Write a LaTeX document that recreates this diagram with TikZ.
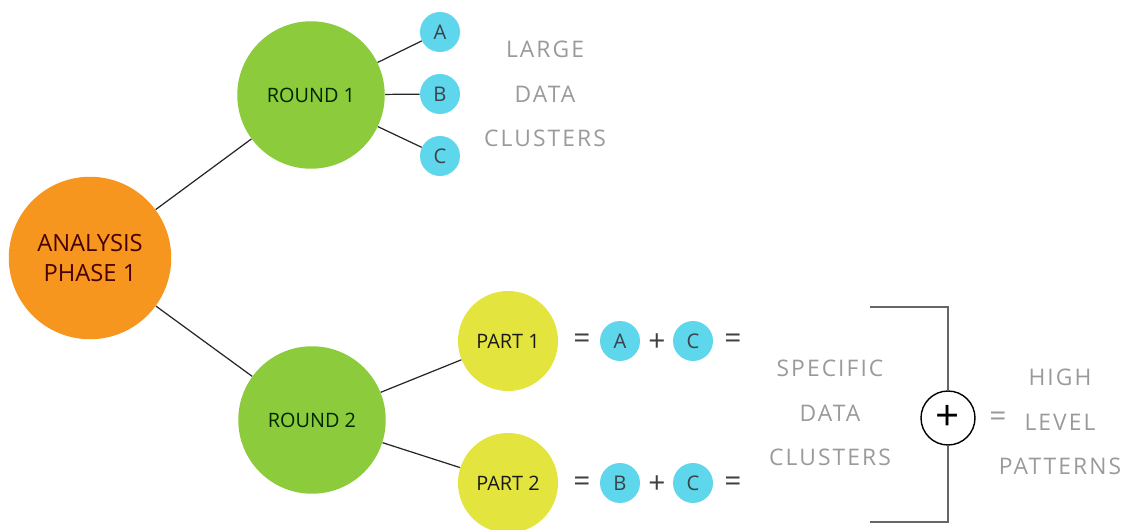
\documentclass[tikz,border=0pt]{standalone}
\usepackage{fontspec}
\setmainfont{Open Sans}
\newfontfamily\spaced[LetterSpace=9]{Open Sans}
\usepackage{xcolor}
\definecolor{phaseorange}{HTML}{F7961F}
\definecolor{roundgreen}{HTML}{8CCB3C}
\definecolor{partyellow}{HTML}{E4E43E}
\definecolor{clustercyan}{HTML}{5ED6EC}
\definecolor{labelgray}{HTML}{9A9A9A}

\begin{document}
\begin{tikzpicture}[x=0.02cm,y=-0.02cm,
  bubble/.style={circle,inner sep=0pt,align=center},
  phase/.style={bubble,fill=phaseorange,minimum size=3.25cm,text=black!60!red!70!black,font=\fontsize{13.5}{17.5}\selectfont},
  round/.style={bubble,fill=roundgreen,minimum size=2.95cm,text=black!85!green,font=\fontsize{11.3}{13}\selectfont},
  part/.style={bubble,fill=partyellow,minimum size=2cm,text=black!90,font=\fontsize{11.3}{13}\selectfont},
  letter/.style={bubble,fill=clustercyan,minimum size=0.8cm,text=black!70!cyan!60!black,font=\fontsize{11.5}{13}\selectfont},
  sign/.style={text=black!75,font=\fontsize{17}{17}\selectfont},
  graylabel/.style={align=center,text=labelgray,font=\fontsize{13}{25.5}\selectfont\spaced},
  link/.style={draw=black!85,line width=0.7pt}]
\useasboundingbox (0,0) rectangle (1126,530);

% bubbles
\node[phase] (ana) at (90,258) {ANALYSIS\\PHASE 1};
\node[round] (r1) at (311,95) {ROUND 1};
\node[round] (r2) at (312,420) {ROUND 2};
\node[letter] (a) at (440,32) {A};
\node[letter] (b) at (440,94) {B};
\node[letter] (c) at (440,156) {C};
\node[part] (p1) at (508,341) {PART 1};
\node[part] (p2) at (508,483) {PART 2};

\draw[link] (ana) -- (r1);
\draw[link] (ana) -- (r2);
\draw[link] (r1) -- (a);
\draw[link] (r1) -- (b);
\draw[link] (r1) -- (c);
\draw[link] (r2) -- (p1);
\draw[link] (r2) -- (p2);

\node[graylabel] (large) at (545,94) {LARGE\\DATA\\CLUSTERS};

% sums
\node[sign] (eq1) at (582,341) {=};
\node[letter] (a1) at (620,341) {A};
\node[sign] (pl1) at (657,343) {+};
\node[letter] (c1) at (693,341) {C};
\node[sign] (eq2) at (733,341) {=};
\node[sign] (eq3) at (582,484) {=};
\node[letter] (b2) at (620,483) {B};
\node[sign] (pl2) at (657,485) {+};
\node[letter] (c2) at (693,483) {C};
\node[sign] (eq4) at (733,484) {=};

\node[graylabel] (specific) at (830,413) {SPECIFIC\\DATA\\CLUSTERS};

% bracket
\node[circle,draw=black,line width=0.8pt,minimum size=1.08cm,inner sep=0pt,font=\fontsize{24}{24}\selectfont] (sum) at (948,418) {+};
\coordinate (top) at (870,307);
\coordinate (bot) at (870,522);
\draw[draw=black!60,line width=0.9pt] (top) -| (sum.north);
\draw[draw=black!60,line width=0.9pt] (bot) -| (sum.south);

\node[sign,text=labelgray] (eq5) at (998,419) {=};
\node[graylabel] (high) at (1060,422) {HIGH\\LEVEL\\PATTERNS};
\end{tikzpicture}
\end{document}
